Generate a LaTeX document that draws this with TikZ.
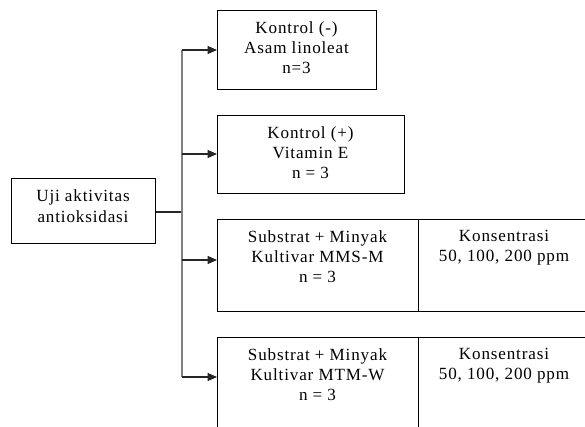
\documentclass[tikz,border=0pt]{standalone}
\usepackage{fontspec}
\setmainfont{Liberation Serif}[LetterSpace=5]
\usetikzlibrary{arrows.meta}
\begin{document}
\begin{tikzpicture}[x=0.75pt,y=-0.75pt,
  boxshape/.style={draw=black,line width=0.8pt,inner sep=0pt,anchor=north west},
  txt/.style={anchor=north,inner sep=0pt,align=center,font=\fontsize{12.8pt}{15.3pt}\selectfont},
  trunkline/.style={draw=black!50,line width=1.3pt},
  conn/.style={draw=black!85,line width=0.8pt},
  arr/.style={conn,-{Triangle[length=7pt,width=6pt]}}]
\useasboundingbox (0,0) rectangle (585,426);
\clip (0,0) rectangle (585,426);
% boxes
\node[boxshape,minimum width=144*0.75pt,minimum height=65*0.75pt] (start) at (11,178) {};
\node[boxshape,minimum width=159*0.75pt,minimum height=79*0.75pt] (b1) at (217,10) {};
\node[boxshape,minimum width=187*0.75pt,minimum height=78*0.75pt] (b2) at (217,115) {};
\node[boxshape,minimum width=201*0.75pt,minimum height=92*0.75pt] (b3) at (217,219) {};
\node[boxshape,minimum width=180*0.75pt,minimum height=92*0.75pt] (c3) at (418,219) {};
\node[boxshape,minimum width=201*0.75pt,minimum height=110*0.75pt] (b4) at (217,337) {};
\node[boxshape,minimum width=180*0.75pt,minimum height=110*0.75pt] (c4) at (418,337) {};
% texts
\node[txt] (tstart) at (83,189.5) {Uji aktivitas\\antioksidasi};
\node[txt] (t1) at (296.5,21) {Kontrol (-)\\Asam linoleat\\n=3};
\node[txt] (t2) at (310.5,126) {Kontrol (+)\\Vitamin E\\n = 3};
\node[txt] (t3) at (317.5,230) {Substrat + Minyak\\Kultivar MMS-M\\n = 3};
\node[txt] (u3) at (504,230) {Konsentrasi\\50, 100, 200 ppm};
\node[txt] (t4) at (317.5,348) {Substrat + Minyak\\Kultivar MTM-W\\n = 3};
\node[txt] (u4) at (504,348) {Konsentrasi\\50, 100, 200 ppm};
% connectors
\coordinate (j0) at (182,212);
\coordinate (a1) at (182,50);
\coordinate (a2) at (182,154);
\coordinate (a3) at (182,260);
\coordinate (a4) at (182,377);
\draw[conn] (start.east |- j0) -- (j0);
\draw[trunkline] (a1) -- (a4);
\draw[arr] (a1) -- (a1 -| b1.west);
\draw[arr] (a2) -- (a2 -| b2.west);
\draw[arr] (a3) -- (a3 -| b3.west);
\draw[arr] (a4) -- (a4 -| b4.west);
\end{tikzpicture}
\end{document}
